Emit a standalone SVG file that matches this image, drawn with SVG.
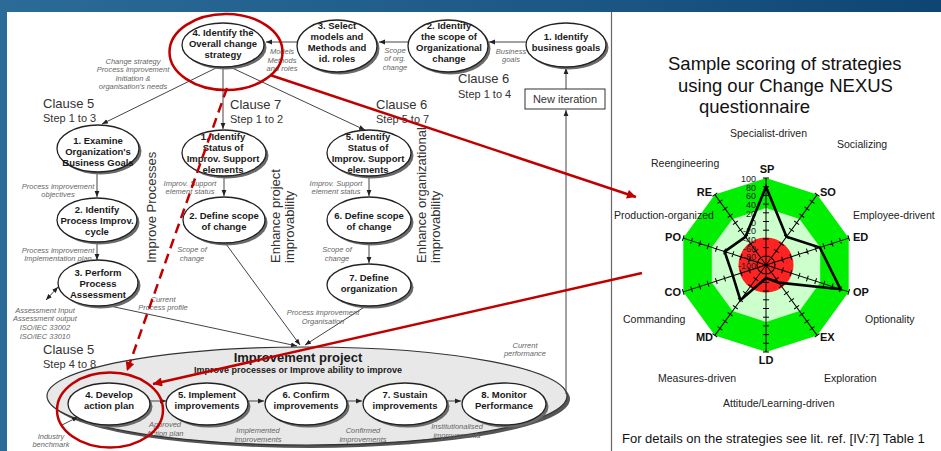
<svg xmlns="http://www.w3.org/2000/svg" width="941" height="451" viewBox="0 0 941 451">
<style>
.nd{fill:#fff;stroke:#222;stroke-width:1.3}
.sh{fill:#6a6a6a}
.nt{font-family:"Liberation Sans",Arial,sans-serif;font-size:9.5px;font-weight:bold;fill:#1a1a1a;text-anchor:middle}
.lb{font-family:"Liberation Sans",Arial,sans-serif;font-size:7.5px;font-style:italic;fill:#666;text-anchor:middle}
.cl{font-family:"Liberation Sans",Arial,sans-serif;font-size:13px;fill:#333}
.st{font-family:"Liberation Sans",Arial,sans-serif;font-size:11px;fill:#333}
.vt{font-family:"Liberation Sans",Arial,sans-serif;font-size:13px;fill:#333}
.cn{stroke:#444;stroke-width:1;fill:none;marker-end:url(#ah)}
.rd{stroke:#c00000;stroke-width:2.5;fill:none}
.rt{font-family:"Liberation Sans",Arial,sans-serif;fill:#111}
.ds{font-family:"Liberation Sans",Arial,sans-serif;font-size:10.5px;fill:#222}
.ab{font-family:"Liberation Sans",Arial,sans-serif;font-size:11px;font-weight:bold;fill:#111}
.tk{font-family:"Liberation Sans",Arial,sans-serif;font-size:9px;fill:#222;text-anchor:end}
</style>
<defs>
<linearGradient id="bg" x1="0" y1="0" x2="1" y2="0">
<stop offset="0" stop-color="#2b6b97"/>
<stop offset="0.6" stop-color="#1c5886"/>
<stop offset="1" stop-color="#0e4572"/>
</linearGradient>
<marker id="ah" viewBox="0 0 10 10" refX="10" refY="5" markerWidth="6" markerHeight="6" markerUnits="userSpaceOnUse" orient="auto-start-reverse"><path d="M0,1 L10,5 L0,9 z" fill="#222"/></marker>
<marker id="rh" viewBox="0 0 10 10" refX="10" refY="5" markerWidth="11" markerHeight="9" markerUnits="userSpaceOnUse" orient="auto"><path d="M0,0 L10,5 L0,10 z" fill="#c00000"/></marker>
<path id="ax" d="M0 0V-87M-3 -8.7H3M-3 -17.4H3M-3 -26.1H3M-3 -34.8H3M-3 -43.5H3M-3 -52.2H3M-3 -60.9H3M-3 -69.6H3M-3 -78.3H3M-3 -87H3" stroke="#000" stroke-width="1" fill="none"/>
</defs>

<rect x="0" y="0" width="941" height="451" fill="url(#bg)"/>
<rect x="7" y="12" width="934" height="439" fill="#fff"/>
<line x1="611.5" y1="12" x2="611.5" y2="451" stroke="#666" stroke-width="1.2"/>

<!-- Improvement project big ellipse -->
<g id="improvement-project">
<ellipse cx="310" cy="399" rx="260" ry="49" fill="#555"/>
<ellipse cx="307" cy="396" rx="260" ry="49" fill="#e8e8e8" stroke="#333" stroke-width="1.2"/>
<text x="298" y="362" class="nt" style="font-size:13px">Improvement project</text>
<text x="298" y="373" class="nt" style="font-size:9px">Improve processes or Improve ability to improve</text>
</g>

<!-- Connectors -->
<g id="connectors">
<line class="cn" x1="526" y1="42" x2="489" y2="42"/>
<line class="cn" x1="408" y1="42" x2="379" y2="42"/>
<line class="cn" x1="297" y1="42" x2="266" y2="42"/>
<line class="cn" x1="566" y1="89" x2="566" y2="68"/>
<line class="cn" x1="566" y1="394" x2="566" y2="110" stroke="#777" stroke-width="1.5"/>
<line class="cn" x1="218" y1="67" x2="102" y2="124"/>
<line class="cn" x1="223" y1="68" x2="223" y2="129"/>
<line class="cn" x1="230" y1="67" x2="365" y2="130"/>
<line class="cn" x1="97" y1="172" x2="97" y2="197"/>
<line class="cn" x1="97" y1="242" x2="97" y2="260"/>
<line class="cn" x1="224" y1="176" x2="224" y2="196"/>
<line class="cn" x1="369" y1="176" x2="369" y2="196"/>
<line class="cn" x1="369" y1="243" x2="369" y2="263"/>
<line class="cn" x1="110" y1="306" x2="297" y2="346"/>
<line class="cn" x1="226" y1="244" x2="300" y2="345"/>
<line class="cn" x1="366" y1="306" x2="305" y2="345"/>
<line class="cn" x1="46" y1="300" x2="58" y2="287" style="marker-start:url(#ah)"/>
<line class="cn" x1="62" y1="425" x2="78" y2="417"/>
<line class="cn" x1="150" y1="401" x2="166" y2="401"/>
<line class="cn" x1="248" y1="401" x2="264" y2="401"/>
<line class="cn" x1="347" y1="401" x2="362" y2="401"/>
<line class="cn" x1="447" y1="401" x2="461" y2="401"/>
</g>

<!-- Top row nodes -->
<g id="n-top4">
<ellipse class="sh" cx="225.5" cy="47.5" rx="41" ry="22"/>
<ellipse class="nd" cx="223" cy="45" rx="41" ry="22"/>
<text class="nt" x="223" y="36">4. Identify the</text>
<text class="nt" x="223" y="47">Overall change</text>
<text class="nt" x="223" y="58">strategy</text>
</g>
<g id="n-top3">
<ellipse class="sh" cx="339.5" cy="48.5" rx="40" ry="26"/>
<ellipse class="nd" cx="337" cy="46" rx="40" ry="26"/>
<text class="nt" x="337" y="29">3. Select</text>
<text class="nt" x="337" y="40">models and</text>
<text class="nt" x="337" y="51">Methods and</text>
<text class="nt" x="337" y="62">id. roles</text>
</g>
<g id="n-top2">
<ellipse class="sh" cx="450.5" cy="48.5" rx="40" ry="26"/>
<ellipse class="nd" cx="448" cy="46" rx="40" ry="26"/>
<text class="nt" x="449" y="29">2. Identify</text>
<text class="nt" x="449" y="40">the scope of</text>
<text class="nt" x="449" y="51">Organizational</text>
<text class="nt" x="449" y="62">change</text>
</g>
<g id="n-top1">
<ellipse class="sh" cx="568.5" cy="47.5" rx="40" ry="22"/>
<ellipse class="nd" cx="566" cy="45" rx="40" ry="22"/>
<text class="nt" x="566" y="40">1. Identify</text>
<text class="nt" x="566" y="51">business goals</text>
</g>
<g id="new-iteration">
<rect x="525" y="89" width="80" height="20" fill="#fff" stroke="#333" stroke-width="1"/>
<text x="565" y="103" class="st" text-anchor="middle">New iteration</text>
</g>

<!-- Clause 5 column -->
<g id="n-c5-1">
<ellipse class="sh" cx="100.5" cy="151" rx="41" ry="23.5"/>
<ellipse class="nd" cx="98" cy="148.5" rx="41" ry="23.5"/>
<text class="nt" x="98" y="144">1. Examine</text>
<text class="nt" x="98" y="155">Organization's</text>
<text class="nt" x="98" y="166">Business Goals</text>
</g>
<g id="n-c5-2">
<ellipse class="sh" cx="99.5" cy="222.5" rx="40" ry="22"/>
<ellipse class="nd" cx="97" cy="220" rx="40" ry="22"/>
<text class="nt" x="97" y="213">2. Identify</text>
<text class="nt" x="97" y="224">Process Improv.</text>
<text class="nt" x="97" y="235">cycle</text>
</g>
<g id="n-c5-3">
<ellipse class="sh" cx="100.5" cy="285.5" rx="40" ry="23"/>
<ellipse class="nd" cx="98" cy="283" rx="40" ry="23"/>
<text class="nt" x="98" y="276">3. Perform</text>
<text class="nt" x="98" y="287">Process</text>
<text class="nt" x="98" y="298">Assessment</text>
</g>

<!-- Clause 7 column -->
<g id="n-c7-1">
<ellipse class="sh" cx="226.5" cy="155.5" rx="42" ry="23"/>
<ellipse class="nd" cx="224" cy="153" rx="42" ry="23"/>
<text class="nt" x="223" y="140">1. Identify</text>
<text class="nt" x="223" y="151">Status of</text>
<text class="nt" x="223" y="162">Improv. Support</text>
<text class="nt" x="223" y="173">elements</text>
</g>
<g id="n-c7-2">
<ellipse class="sh" cx="226.5" cy="222.5" rx="41" ry="23"/>
<ellipse class="nd" cx="224" cy="220" rx="41" ry="23"/>
<text class="nt" x="224" y="219">2. Define scope</text>
<text class="nt" x="224" y="230">of change</text>
</g>

<!-- Clause 6 column -->
<g id="n-c6-5">
<ellipse class="sh" cx="371.5" cy="155.5" rx="42" ry="23"/>
<ellipse class="nd" cx="369" cy="153" rx="42" ry="23"/>
<text class="nt" x="368" y="140">5. Identify</text>
<text class="nt" x="368" y="151">Status of</text>
<text class="nt" x="368" y="162">Improv. Support</text>
<text class="nt" x="368" y="173">elements</text>
</g>
<g id="n-c6-6">
<ellipse class="sh" cx="371.5" cy="222.5" rx="42" ry="23"/>
<ellipse class="nd" cx="369" cy="220" rx="42" ry="23"/>
<text class="nt" x="369" y="219">6. Define scope</text>
<text class="nt" x="369" y="230">of change</text>
</g>
<g id="n-c6-7">
<ellipse class="sh" cx="371.5" cy="287.5" rx="42" ry="21"/>
<ellipse class="nd" cx="369" cy="285" rx="42" ry="21"/>
<text class="nt" x="369" y="281">7. Define</text>
<text class="nt" x="369" y="292">organization</text>
</g>

<!-- Bottom chain -->
<g id="n-b4">
<ellipse class="sh" cx="111.5" cy="406.5" rx="41" ry="21"/>
<ellipse class="nd" cx="109" cy="404" rx="41" ry="21"/>
<text class="nt" x="109" y="398">4. Develop</text>
<text class="nt" x="109" y="409">action plan</text>
</g>
<g id="n-b5">
<ellipse class="sh" cx="209.5" cy="406.5" rx="41" ry="21"/>
<ellipse class="nd" cx="207" cy="404" rx="41" ry="21"/>
<text class="nt" x="207" y="398">5. Implement</text>
<text class="nt" x="207" y="409">improvements</text>
</g>
<g id="n-b6">
<ellipse class="sh" cx="308.5" cy="406.5" rx="41" ry="21"/>
<ellipse class="nd" cx="306" cy="404" rx="41" ry="21"/>
<text class="nt" x="306" y="398">6. Confirm</text>
<text class="nt" x="306" y="409">improvements</text>
</g>
<g id="n-b7">
<ellipse class="sh" cx="407.5" cy="406.5" rx="42" ry="21"/>
<ellipse class="nd" cx="405" cy="404" rx="42" ry="21"/>
<text class="nt" x="405" y="398">7. Sustain</text>
<text class="nt" x="405" y="409">improvements</text>
</g>
<g id="n-b8">
<ellipse class="sh" cx="506.5" cy="406.5" rx="42" ry="21"/>
<ellipse class="nd" cx="504" cy="404" rx="42" ry="21"/>
<text class="nt" x="504" y="398">8. Monitor</text>
<text class="nt" x="504" y="409">Performance</text>
</g>

<!-- Connector labels -->
<g id="labels">
<text class="lb" x="511" y="54">Business</text><text class="lb" x="511" y="62">goals</text>
<text class="lb" x="395" y="52.5">Scope</text><text class="lb" x="395" y="61">of org.</text><text class="lb" x="395" y="69.5">change</text>
<text class="lb" x="282" y="54">Models</text><text class="lb" x="282" y="62.5">Methods</text><text class="lb" x="282" y="71">and roles</text>
<text class="lb" x="133" y="63.5">Change strategy</text><text class="lb" x="133" y="72">Process improvement</text><text class="lb" x="133" y="80.5">Initiation &amp;</text><text class="lb" x="133" y="89">organisation's needs</text>
<text class="lb" x="58" y="188.5">Process improvement</text><text class="lb" x="58" y="196.5">objectives</text>
<text class="lb" x="58" y="252.5">Process improvement</text><text class="lb" x="58" y="260.5">Implementation plan</text>
<text class="lb" x="190" y="185.5">Improv. Support</text><text class="lb" x="190" y="193.5">element status</text>
<text class="lb" x="192" y="251.5">Scope of</text><text class="lb" x="192" y="260.5">change</text>
<text class="lb" x="336" y="185.5">Improv. Support</text><text class="lb" x="336" y="193.5">element status</text>
<text class="lb" x="337" y="251.5">Scope of</text><text class="lb" x="337" y="260.5">change</text>
<text class="lb" x="323" y="314.5">Process improvement</text><text class="lb" x="323" y="323.5">Organisation</text>
<text class="lb" x="163" y="301.5">Current</text><text class="lb" x="163" y="309.5">Process profile</text>
<text class="lb" x="45" y="312.5">Assessment Input</text><text class="lb" x="45" y="320.5">Assessment output</text><text class="lb" x="45" y="329.5">ISO/IEC 33002</text><text class="lb" x="45" y="338.5">ISO/IEC 33010</text>
<text class="lb" x="525" y="347.5">Current</text><text class="lb" x="525" y="355.5">performance</text>
<text class="lb" x="165" y="426.5">Approved</text><text class="lb" x="165" y="435.5">Action plan</text>
<text class="lb" x="258" y="432.5">Implemented</text><text class="lb" x="258" y="441.5">improvements</text>
<text class="lb" x="363" y="432.5">Confirmed</text><text class="lb" x="363" y="441.5">improvements</text>
<text class="lb" x="457" y="428.5">Institutionalised</text><text class="lb" x="457" y="437.5">improvements</text>
<text class="lb" x="51" y="438.5">Industry</text><text class="lb" x="51" y="446.5">benchmark</text>
</g>

<!-- Clause headings -->
<g id="clauses">
<text class="cl" x="43" y="108">Clause 5</text><text class="st" x="43" y="122">Step 1 to 3</text>
<text class="cl" x="230" y="109">Clause 7</text><text class="st" x="230" y="123">Step 1 to 2</text>
<text class="cl" x="376" y="109">Clause 6</text><text class="st" x="376" y="123">Step 5 to 7</text>
<text class="cl" x="458" y="83">Clause 6</text><text class="st" x="458" y="98">Step 1 to 4</text>
<text class="cl" x="43" y="354">Clause 5</text><text class="st" x="43" y="368">Step 4 to 8</text>
<text class="vt" transform="translate(155.5,263) rotate(-90)">Improve Processes</text>
<text class="vt" transform="translate(280,263) rotate(-90)">Enhance project</text>
<text class="vt" transform="translate(293.5,263) rotate(-90)">improvability</text>
<text class="vt" transform="translate(425.5,263) rotate(-90)">Enhance organizational</text>
<text class="vt" transform="translate(440,263) rotate(-90)">improvability</text>
</g>

<!-- Right panel -->
<g id="radar-panel">
<text class="rt" x="668" y="70" font-size="18.5">Sample scoring of strategies</text>
<text class="rt" x="678" y="92" font-size="18.5">using our Change NEXUS</text>
<text class="rt" x="699" y="113" font-size="18.5">questionnaire</text>
<polygon points="766,178 817.1,194.6 848.7,238.1 848.7,291.9 817.1,335.4 766,352 714.9,335.4 683.3,291.9 683.3,238.1 714.9,194.6" fill="#00ee00"/>
<polygon points="766,208 799.5,218.9 820.2,247.4 820.2,282.6 799.5,311.1 766,322 732.5,311.1 711.8,282.6 711.8,247.4 732.5,218.9" fill="#ccffcc"/>
<circle cx="766" cy="265" r="27.5" fill="#ff2222"/>
<use href="#ax" transform="translate(766,265)"/>
<use href="#ax" transform="translate(766,265) rotate(36)"/>
<use href="#ax" transform="translate(766,265) rotate(72)"/>
<use href="#ax" transform="translate(766,265) rotate(108)"/>
<use href="#ax" transform="translate(766,265) rotate(144)"/>
<use href="#ax" transform="translate(766,265) rotate(180)"/>
<use href="#ax" transform="translate(766,265) rotate(216)"/>
<use href="#ax" transform="translate(766,265) rotate(252)"/>
<use href="#ax" transform="translate(766,265) rotate(288)"/>
<use href="#ax" transform="translate(766,265) rotate(324)"/>
<text class="tk" x="756" y="182">100</text>
<text class="tk" x="756" y="190.7">80</text>
<text class="tk" x="756" y="199.4">60</text>
<text class="tk" x="756" y="208.1">40</text>
<text class="tk" x="756" y="216.8">20</text>
<text class="tk" x="756" y="225.5">0</text>
<text class="tk" x="756" y="234.2">-20</text>
<text class="tk" x="756" y="242.9">-40</text>
<text class="tk" x="756" y="251.6">-60</text>
<text class="tk" x="756" y="260.3">-80</text>
<text class="tk" x="756" y="269">-100</text>
<polygon points="766,186.7 786.5,236.8 819.8,247.5 840.5,289.2 778.8,282.6 766,278.1 740.4,300.2 732.9,275.8 724.6,251.6 745.5,236.8" fill="none" stroke="#000" stroke-width="2.6"/>
<text class="ab" x="767" y="173" text-anchor="middle">SP</text>
<text class="ab" x="820" y="196">SO</text>
<text class="ab" x="853" y="241">ED</text>
<text class="ab" x="853" y="296">OP</text>
<text class="ab" x="820" y="341">EX</text>
<text class="ab" x="766" y="364" text-anchor="middle">LD</text>
<text class="ab" x="713" y="341" text-anchor="end">MD</text>
<text class="ab" x="681" y="296" text-anchor="end">CO</text>
<text class="ab" x="681" y="241" text-anchor="end">PO</text>
<text class="ab" x="712" y="196" text-anchor="end">RE</text>
<text class="ds" x="730" y="137">Specialist-driven</text>
<text class="ds" x="837" y="148">Socializing</text>
<text class="ds" x="651" y="167">Reengineering</text>
<text class="ds" x="614" y="219">Production-organized</text>
<text class="ds" x="853" y="219">Employee-drivent</text>
<text class="ds" x="623" y="323">Commanding</text>
<text class="ds" x="865" y="323">Optionality</text>
<text class="ds" x="658" y="382">Measures-driven</text>
<text class="ds" x="824" y="382">Exploration</text>
<text class="ds" x="723" y="407">Attitude/Learning-driven</text>
<text class="rt" x="622" y="443" font-size="13">For details on the strategies see lit. ref. [IV:7] Table 1</text>
</g>

<!-- Red highlights -->
<g id="highlights">
<ellipse class="rd" cx="226" cy="52" rx="56.5" ry="38" stroke-width="3"/>
<ellipse class="rd" cx="110" cy="410" rx="53" ry="37.5" stroke-width="3"/>
<line class="rd" x1="227" y1="88" x2="127" y2="371" stroke-dasharray="10,6" marker-end="url(#rh)"/>
<line class="rd" x1="270" y1="75" x2="636" y2="197" marker-end="url(#rh)"/>
<line class="rd" x1="642" y1="273" x2="153" y2="384" marker-end="url(#rh)"/>
</g>
</svg>
